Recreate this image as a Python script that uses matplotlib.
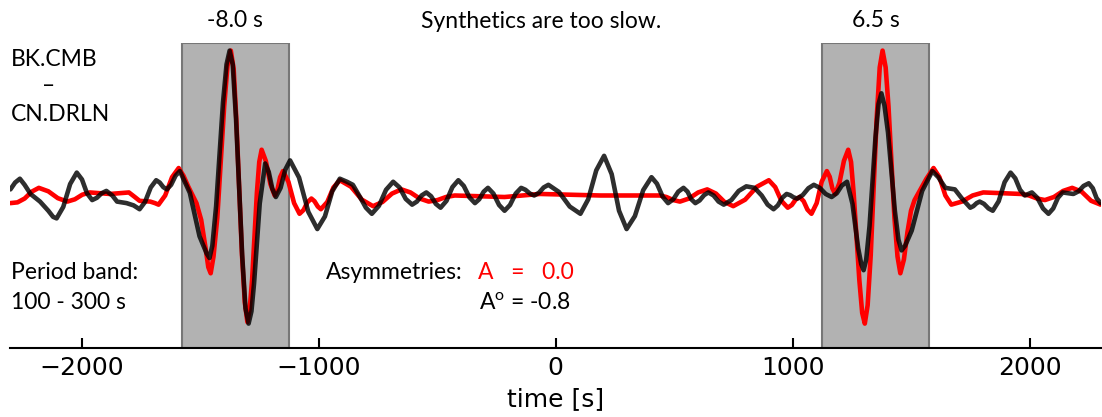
import matplotlib
matplotlib.use("Agg")
import matplotlib.pyplot as plt

# ---- data (time in s, normalized amplitude) ----
obs_t = [-2300, -2280, -2260, -2240, -2215, -2175, -2140, -2120, -2105, -2077,
         -2048, -2020, -1998, -1977, -1955, -1935, -1915, -1895, -1870, -1850,
         -1810, -1780, -1755, -1732, -1708, -1685, -1670, -1655, -1640, -1622,
         -1603, -1585, -1543, -1502, -1472, -1460, -1448, -1432, -1403, -1388,
         -1375, -1362, -1348, -1322, -1308, -1295, -1283, -1272, -1248, -1225,
         -1210, -1195, -1180, -1160, -1140, -1120,
         -1082, -1043, -1005, -973, -942, -910, -880, -855, -825, -800,
         -775, -745, -715, -685, -658, -632, -605, -585, -565, -545,
         -525, -505, -485, -460, -435, -410, -387, -363, -340, -322,
         -303, -285, -262, -238, -215, -192, -168, -145, -127, -108,
         -90, -70, -50, -30, 15, 60, 105, 138, 172, 205,
         237, 268, 300, 335, 370, 405, 428, 452, 475, 497,
         518, 540, 557, 573, 590, 608, 627, 645, 667, 688,
         710, 742, 773, 805, 840, 870, 895, 920, 938, 957,
         975, 990, 1005, 1020, 1043, 1067, 1090, 1115, 1140, 1165,
         1187, 1208, 1230, 1253, 1277, 1290, 1300, 1311, 1325, 1350,
         1363, 1375, 1388, 1403, 1432, 1447, 1460, 1475, 1503, 1547,
         1590, 1615, 1645, 1685, 1715, 1750,
         1763, 1777, 1790, 1808, 1827, 1845, 1870, 1895, 1920, 1940,
         1960, 1980, 1995, 2010, 2033, 2057, 2080, 2100, 2120, 2140,
         2162, 2185, 2207, 2228, 2250, 2267, 2283, 2300]
obs_v = [0.04, 0.085, 0.11, 0.07, 0.01, -0.04, -0.10, -0.14, -0.15, -0.075,
         0.075, 0.15, 0.105, 0.015, -0.03, -0.015, 0.015, 0.03, 0.00, -0.04,
         -0.05, -0.065, -0.09, -0.0425, 0.0525, 0.10, 0.085, 0.055, 0.04, 0.07,
         0.13, 0.16, 0.0175, -0.2675, -0.38, -0.41, -0.33, -0.07, 0.61, 0.86,
         0.95, 0.86, 0.5025, -0.3925, -0.74, -0.84, -0.76, -0.5775, -0.0525, 0.21,
         0.155, 0.045, -0.01, 0.05, 0.17, 0.23,
         0.1175, -0.1075, -0.22, -0.1375, 0.0275, 0.11, 0.09, 0.07, -0.01, -0.08,
         -0.12, -0.0675, 0.0375, 0.09, 0.0525, -0.0225, -0.06, -0.04, 0.00, 0.02,
         -0.005, -0.055, -0.08, -0.035, 0.055, 0.10, 0.0625, -0.0125, -0.05, -0.025,
         0.025, 0.05, 0.0125, -0.0625, -0.10, -0.0625, 0.0125, 0.05, 0.0375, 0.0125,
         0.00, 0.0175, 0.0525, 0.07, 0.0225, -0.0725, -0.12, -0.025, 0.165, 0.26,
         0.14, -0.10, -0.22, -0.135, 0.035, 0.12, 0.0775, -0.0075, -0.05, -0.025,
         0.025, 0.05, 0.025, -0.025, -0.05, -0.0325, 0.0025, 0.02, 0.00, -0.04,
         -0.06, -0.03, 0.03, 0.06, 0.05, 0.00, -0.06, -0.09, -0.065, -0.015,
         0.01, 0.0025, -0.0125, -0.02, 0.0025, 0.0475, 0.07, 0.05, 0.01, -0.01,
         0.015, 0.065, 0.09, -0.055, -0.345, -0.45, -0.49, -0.42, -0.20, 0.38,
         0.60, 0.67, 0.59, 0.4125, -0.1025, -0.29, -0.36, -0.33, -0.23, 0.03,
         0.16, 0.12, 0.05, 0.04, -0.02, -0.08,
         -0.07, -0.05, -0.04, -0.055, -0.085, -0.10, -0.0375, 0.0875, 0.15, 0.1125,
         0.0375, 0.00, 0.01, 0.02, -0.015, -0.085, -0.12, -0.085, -0.015, 0.02,
         0.015, 0.01, 0.0275, 0.0625, 0.08, 0.0475, -0.0175, -0.05]

syn_t = [-2300, -2270, -2240, -2210, -2180, -2140, -2100, -2060, -2028, -1997,
         -1965, -1880, -1800, -1775, -1755, -1710, -1690, -1675, -1647, -1618,
         -1590, -1570, -1550, -1515, -1495, -1475, -1465, -1455, -1443, -1427,
         -1398, -1384, -1370, -1358, -1347, -1323, -1311, -1300, -1290, -1280,
         -1260, -1250, -1240, -1222, -1203, -1185, -1173,
         -1162, -1150, -1127, -1103, -1080, -1063, -1047, -1030, -1017, -1003,
         -990, -963, -937, -910, -863, -817, -770, -730, -690, -650,
         -612, -573, -535, -498, -462, -425, -215, -65, 190, 440,
         468, 497, 525, 563, 602, 640, 677, 713, 750, 800,
         850, 900, 927, 953, 980, 997, 1013, 1030, 1047, 1063,
         1080, 1102, 1123, 1145, 1157, 1168, 1180, 1198, 1217, 1235,
         1247, 1258, 1282, 1294, 1305, 1317, 1330, 1355, 1368, 1380,
         1393, 1405, 1430, 1443, 1455, 1470,
         1485, 1500, 1515, 1540, 1565, 1595, 1620, 1645, 1670, 1715,
         1760, 1805, 1885, 1965, 1998, 2032, 2065, 2103, 2142, 2180,
         2220, 2260, 2300]
syn_v = [-0.05, -0.045, -0.02, 0.025, 0.05, 0.0275, -0.0175, -0.04, -0.025, 0.005,
         0.02, 0.01, 0.02, -0.01, -0.035, -0.04, -0.05, -0.06, 0.00, 0.12,
         0.18, 0.13, 0.06, -0.05, -0.16, -0.36, -0.47, -0.51, -0.40, -0.145,
         0.585, 0.85, 0.95, 0.83, 0.505, -0.385, -0.70, -0.83, -0.74, -0.5475,
         0.0175, 0.22, 0.30, 0.225, 0.075, 0.00, 0.04,
         0.12, 0.16, 0.09, -0.05, -0.12, -0.095, -0.045, -0.02, -0.0375, -0.0725,
         -0.09, -0.0425, 0.0525, 0.10, 0.0575, -0.0275, -0.07, -0.0425, 0.0125, 0.04,
         0.02, -0.02, -0.04, -0.03, -0.01, 0.00, -0.01, 0.01, 0.00, 0.00,
         -0.01, -0.03, -0.04, -0.02, 0.02, 0.04, 0.0125, -0.0425, -0.07, -0.0275,
         0.0575, 0.10, 0.055, -0.035, -0.08, -0.0625, -0.0275, -0.01, -0.0375, -0.0925,
         -0.12, -0.05, 0.09, 0.16, 0.1225, 0.0475, 0.01, 0.0825, 0.2275, 0.30,
         0.22, 0.015, -0.555, -0.77, -0.84, -0.72, -0.3925, 0.5025, 0.84, 0.95,
         0.84, 0.585, -0.145, -0.40, -0.51, -0.42,
         -0.24, -0.10, -0.03, 0.04, 0.11, 0.18, 0.12, 0.00, -0.06, -0.04,
         0.00, 0.02, 0.015, 0.01, 0.00, -0.02, -0.03, -0.01, 0.03, 0.05,
         0.025, -0.035, -0.06]

windows = [(-1577, -1125), (1125, 1577)]
window_labels = ["-8.0 s", "6.5 s"]
xticks = [-2000, -1000, 0, 1000, 2000]

plt.rcParams['mathtext.fontset'] = 'custom'
plt.rcParams['mathtext.rm'] = 'Lato'
TXT = dict(family=['Lato', 'DejaVu Sans'], fontsize=16.5)

fig = plt.figure(figsize=(11.02, 4.17), dpi=100)
ax = fig.add_axes([0.00944, 0.1655, 0.9893, 0.7314])
ax.set_xlim(-2300, 2300)
ax.set_ylim(-1, 1)

for (a, b) in windows:
    ax.axvspan(a, b, facecolor='#b2b2b2', edgecolor='#777777', linewidth=1.5, zorder=1)

ax.plot(syn_t, syn_v, color='#ff0000', linewidth=3.3, zorder=2,
        solid_joinstyle='round', solid_capstyle='round')
ax.plot(obs_t, obs_v, color='black', alpha=0.82, linewidth=3.3, zorder=3,
        solid_joinstyle='round', solid_capstyle='round')

for (a, b), lab in zip(windows, window_labels):
    ax.text((a + b) / 2, 1.15, lab, ha='center', va='center', clip_on=False, **TXT)
ax.text(-62, 1.14, "Synthetics are too slow.", ha='center', va='center', clip_on=False, **TXT)

ax.text(-2297, 0.895, "BK.CMB", ha='left', va='center', **TXT)
ax.text(-2138, 0.718, "–", ha='center', va='center', **TXT)
ax.text(-2297, 0.528, "CN.DRLN", ha='left', va='center', **TXT)
ax.text(-2297, -0.502, "Period band:", ha='left', va='center', **TXT)
ax.text(-2297, -0.705, "100 - 300 s", ha='left', va='center', **TXT)
ax.text(-967, -0.502, "Asymmetries:", ha='left', va='center', **TXT)
ax.text(-327, -0.502, "A   =   0.0", ha='left', va='center', color='#ff0000', **TXT)
ax.text(-323, -0.705, r"A$^{\mathrm{o}}$ = -0.8", ha='left', va='center', **TXT)

for s in ['top', 'left', 'right']:
    ax.spines[s].set_visible(False)
ax.spines['bottom'].set_linewidth(1.5)
ax.set_yticks([])
ax.set_xticks(xticks)
ax.tick_params(axis='x', direction='in', length=7, width=1.5, labelsize=18, pad=6)
ax.set_xlabel("time [s]", fontsize=18, labelpad=5)

fig.savefig("out.png", dpi=100)
